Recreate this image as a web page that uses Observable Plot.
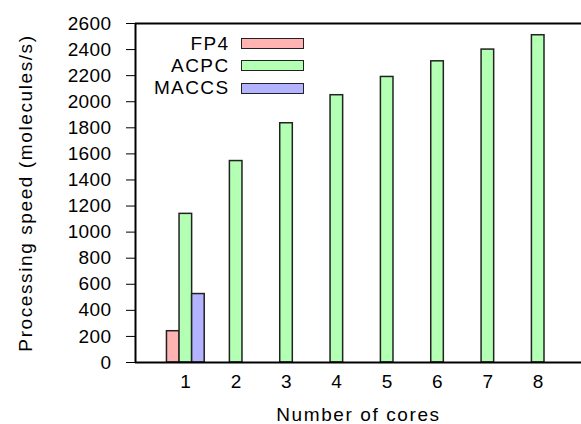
<!DOCTYPE html>
<html>
<head>
<meta charset="utf-8">
<script src="https://cdn.jsdelivr.net/npm/d3@7"></script>
<script src="https://cdn.jsdelivr.net/npm/@observablehq/plot@0.6"></script>
<style>
  html, body { margin: 0; padding: 0; background: #fff; }
  #wrap { position: relative; width: 581px; height: 424px; font-family: "Liberation Sans", Arial, sans-serif; }
  #wrap svg g[aria-label$="tick label"] text { letter-spacing: 0.4px; }
  #wrap svg g[aria-label$="label"]:not([aria-label$="tick label"]) text { letter-spacing: 1.6px; }
  .lg-row { position: absolute; left: 0; height: 22px; width: 320px; }
  .lg-label { position: absolute; width: 200px; text-align: right; font-size: 19px; letter-spacing: 1.4px; line-height: 22px; color: #000; }
  .lg-swatch { position: absolute; width: 63px; height: 11px; box-sizing: border-box; border: 1.5px solid #222; }
</style>
</head>
<body>
<div id="wrap"></div>
<script>
// ---- data ----
const cores = [1, 2, 3, 4, 5, 6, 7, 8];
const acpc = [1140, 1545, 1835, 2050, 2190, 2310, 2400, 2510];
const fp4Cores = [1];
const fp4 = [240];
const maccsCores = [1];
const maccs = [525];
const seriesNames = ["FP4", "ACPC", "MACCS"];
const seriesColors = ["#ffb3b3", "#b3ffb3", "#b3b3ff"];
const yTicks = [0, 200, 400, 600, 800, 1000, 1200, 1400, 1600, 1800, 2000, 2200, 2400, 2600];

// build table: series offset -1, 0, +1 bar widths around the core
const barW = 0.25;
const rows = [];
fp4Cores.forEach((c, i) => rows.push({series: "FP4", core: c, off: -1, value: fp4[i]}));
cores.forEach((c, i) => rows.push({series: "ACPC", core: c, off: 0, value: acpc[i]}));
maccsCores.forEach((c, i) => rows.push({series: "MACCS", core: c, off: 1, value: maccs[i]}));
rows.forEach(d => { d.x1 = d.core + d.off * barW - barW / 2; d.x2 = d.core + d.off * barW + barW / 2; });

const chart = Plot.plot({
  width: 581,
  height: 424,
  marginLeft: 135,
  marginRight: 0,
  marginTop: 23,
  marginBottom: 62,
  style: {fontFamily: "Liberation Sans, Arial, sans-serif", fontSize: "19px", color: "#000", background: "#fff"},
  x: {domain: [0, 8.86], ticks: cores, tickFormat: d3.format("d"), tickSize: 0, tickPadding: 12,
      label: "Number of cores", labelAnchor: "center", labelArrow: "none", labelOffset: 58},
  y: {domain: [0, 2600], ticks: yTicks, tickFormat: d3.format("d"), tickSize: 9, tickPadding: 15,
      label: "Processing speed (molecules/s)", labelAnchor: "center", labelArrow: "none", labelOffset: 117},
  color: {domain: seriesNames, range: seriesColors},
  marks: [
    Plot.rect(rows, {x1: "x1", x2: "x2", y1: 0, y2: "value", fill: "series", stroke: "#222", strokeWidth: 1.5}),
    Plot.ruleX([0], {stroke: "#000", strokeWidth: 2}),
    Plot.ruleY([0, 2600], {stroke: "#000", strokeWidth: 2})
  ]
});
const wrap = document.getElementById("wrap");
wrap.appendChild(chart);

// legend overlay inside the plot area
seriesNames.forEach((name, i) => {
  const row = document.createElement("div");
  row.className = "lg-row";
  row.style.top = (32.5 + 22.3 * i) + "px";
  const lab = document.createElement("div");
  lab.className = "lg-label";
  lab.style.right = (320 - 229.5) + "px";
  lab.textContent = name;
  const sw = document.createElement("div");
  sw.className = "lg-swatch";
  sw.style.left = "241px";
  sw.style.top = "5.5px";
  sw.style.background = seriesColors[i];
  row.appendChild(lab);
  row.appendChild(sw);
  wrap.appendChild(row);
});
</script>
</body>
</html>
